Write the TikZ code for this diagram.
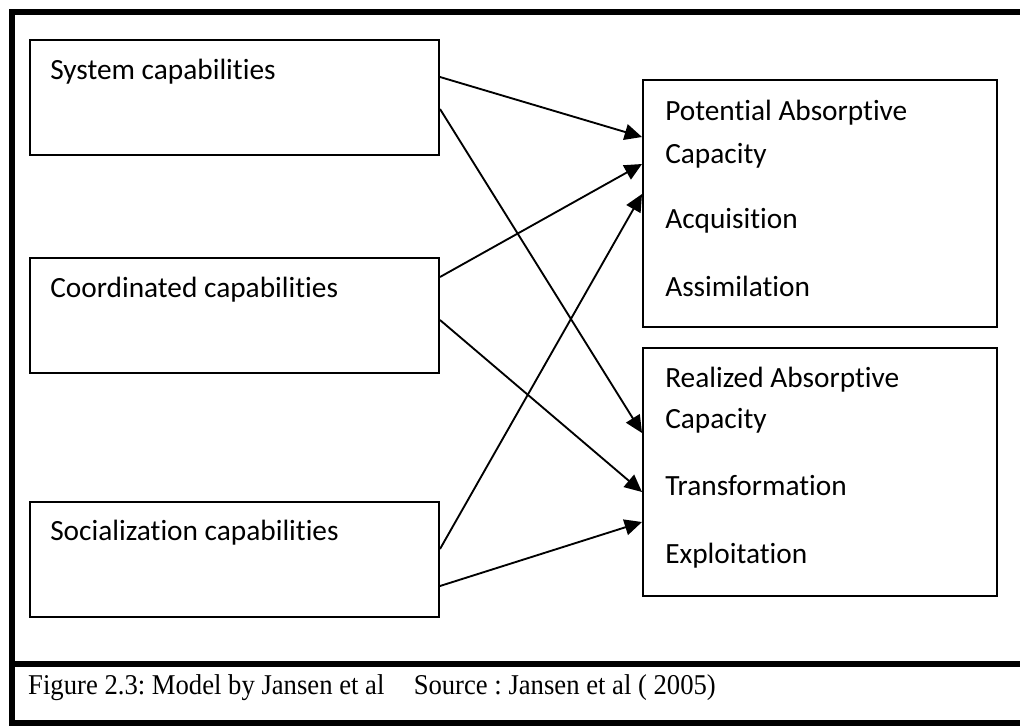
\documentclass[tikz,border=0pt]{standalone}
\usepackage{fontspec}
\setmainfont{Carlito}[Ligatures=NoCommon]
\newfontfamily\capfont{Liberation Serif}
\usetikzlibrary{arrows.meta,fit,calc}
\begin{document}
\begin{tikzpicture}[x=0.75pt,y=-0.75pt,
  box/.style={draw=black,line width=1.5pt,inner sep=0pt},
  lbl/.style={anchor=base west,inner sep=0pt,font=\fontsize{22pt}{26pt}\selectfont},
  conn/.style={line width=1.4pt,-{Triangle[length=13pt,width=12pt]}},
  frame/.style={line width=4.5pt}]
\useasboundingbox (0,0) rectangle (1020,725);
% outer frame
\draw[frame] (1030,12) -- (12,12) -- (12,723) -- (1030,723);
\draw[frame] (12,664) -- (1030,664);
% boxes
\node[box,fit={(30,40) (439,155)}] (sys) {};
\node[box,fit={(30,258) (439,373)}] (coord) {};
\node[box,fit={(30,502) (439,617)}] (soc) {};
\node[box,fit={(643,80) (997,327)}] (pot) {};
\node[box,fit={(643,348) (997,596)}] (real) {};
% texts
\node[lbl] (t1) at (50,79) {System capabilities};
\node[lbl] (t2) at (50,297) {Coordinated capabilities};
\node[lbl] (t3) at (50,540) {Socialization capabilities};
\node[lbl] (p1) at (665,120) {Potential Absorptive};
\node[lbl] (p2) at (665,163) {Capacity};
\node[lbl] (p3) at (665,228) {Acquisition};
\node[lbl] (p4) at (665,296) {Assimilation};
\node[lbl] (r1) at (665,387) {Realized Absorptive};
\node[lbl] (r2) at (665,428) {Capacity};
\node[lbl] (r3) at (665,495) {Transformation};
\node[lbl] (r4) at (665,563) {Exploitation};
% connectors
\draw[conn] ($(sys.north east)+(0,38)$) -- ($(pot.north west)+(0,58)$);
\draw[conn] ($(sys.north east)+(0,70)$) -- ($(real.north west)+(0,86)$);
\draw[conn] ($(coord.north east)+(0,20)$) -- ($(pot.north west)+(0,85)$);
\draw[conn] ($(coord.north east)+(0,63)$) -- ($(real.north west)+(0,145)$);
\draw[conn] ($(soc.north east)+(0,48)$) -- ($(pot.north west)+(0,115)$);
\draw[conn] ($(soc.north east)+(0,85)$) -- ($(real.north west)+(0,175)$);
% caption
\node[anchor=base west,inner sep=0pt,xscale=0.93,font=\capfont\fontsize{21.5pt}{24pt}\selectfont\frenchspacing] (cap) at (28,694) {Figure 2.3: Model by Jansen et al\hspace{1.1em}Source : Jansen et al ( 2005)};
\end{tikzpicture}
\end{document}
